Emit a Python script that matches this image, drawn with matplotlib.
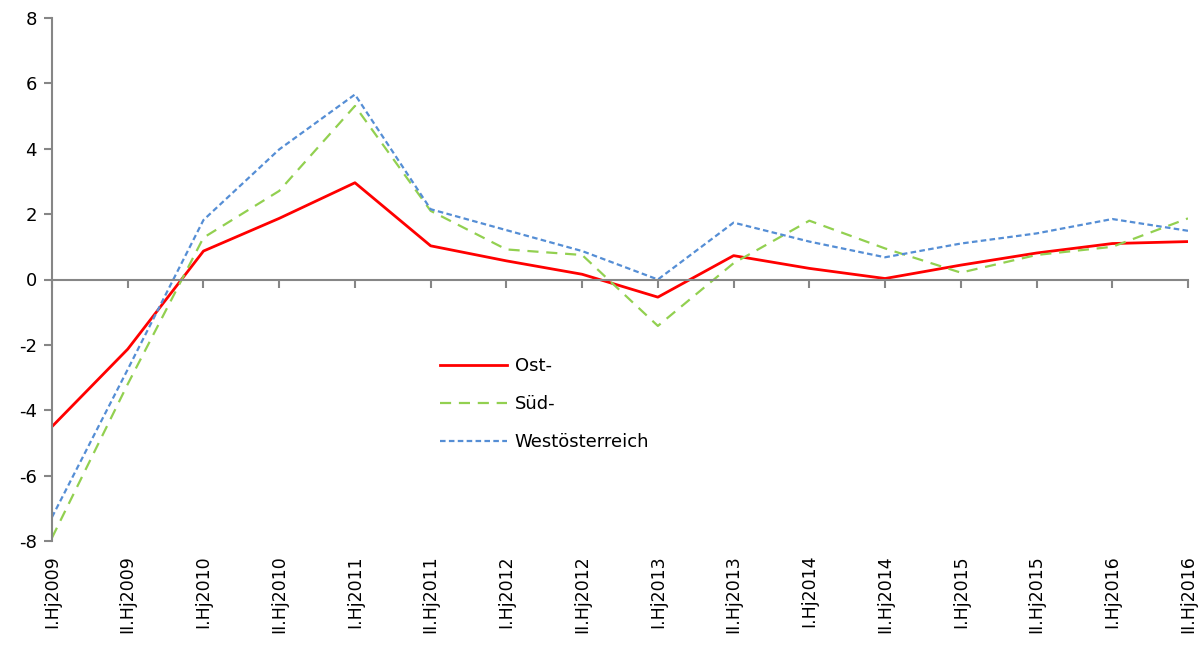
import matplotlib.pyplot as plt

# Halbjahre und Veränderungsraten je Region
perioden = ["I.Hj2009", "II.Hj2009", "I.Hj2010", "II.Hj2010", "I.Hj2011", "II.Hj2011",
            "I.Hj2012", "II.Hj2012", "I.Hj2013", "II.Hj2013", "I.Hj2014", "II.Hj2014",
            "I.Hj2015", "II.Hj2015", "I.Hj2016", "II.Hj2016"]
ost = [-4.5, -2.13, 0.87, 1.87, 2.96, 1.03, 0.57, 0.16, -0.54, 0.73, 0.34, 0.03,
       0.44, 0.81, 1.10, 1.16]
sued = [-7.9, -3.2, 1.28, 2.71, 5.31, 2.1, 0.92, 0.75, -1.42, 0.5, 1.8, 0.95,
        0.21, 0.75, 1.0, 1.87]
west = [-7.27, -2.75, 1.82, 3.98, 5.66, 2.15, 1.51, 0.87, 0.0, 1.74, 1.16, 0.68,
        1.1, 1.41, 1.85, 1.49]

plt.rcParams['font.family'] = ['DejaVu Sans']
plt.rcParams['axes.unicode_minus'] = False
achse = '#868686'

fig = plt.figure(figsize=(12.04, 6.45), dpi=100)
ax = fig.add_axes([52 / 1204, 1 - 541 / 645, 1136 / 1204, 523 / 645])

x = list(range(len(perioden)))
ax.plot(x, ost, color='#FF0000', lw=2, label='Ost-')
ax.plot(x, sued, color='#92D050', lw=1.6, dashes=(5, 3.5), label='Süd-')
ax.plot(x, west, color='#558ED5', lw=1.6, dashes=(2.5, 1.5), label='Westösterreich')

ax.set_xlim(0, 15)
ax.set_ylim(-8, 8)
ax.set_yticks(range(-8, 9, 2))

for s in ['top', 'right']:
    ax.spines[s].set_visible(False)
ax.spines['left'].set_color(achse)
ax.spines['left'].set_linewidth(1.5)
ax.spines['bottom'].set_position(('data', 0))
ax.spines['bottom'].set_color(achse)
ax.spines['bottom'].set_linewidth(1.5)

ax.set_xticks(x)
ax.tick_params(axis='x', direction='out', length=6, width=1.5, color=achse,
               labelbottom=False)
ax.tick_params(axis='y', direction='out', length=6, width=1.5, color=achse,
               labelsize=13, pad=5)

# Beschriftung der Halbjahre unterhalb der Grafik
unten = ax.secondary_xaxis(0)
unten.set_xticks(x)
unten.set_xticklabels(perioden, rotation=90, fontsize=12.5)
unten.tick_params(length=0, pad=10)
unten.spines['bottom'].set_visible(False)

ax.legend(loc='upper left', bbox_to_anchor=(0.3415, 0.351), frameon=False,
          fontsize=13, handlelength=3.7, labelspacing=1.1, borderaxespad=0,
          borderpad=0, handletextpad=0.45)

fig.savefig('out.png', dpi=100)
